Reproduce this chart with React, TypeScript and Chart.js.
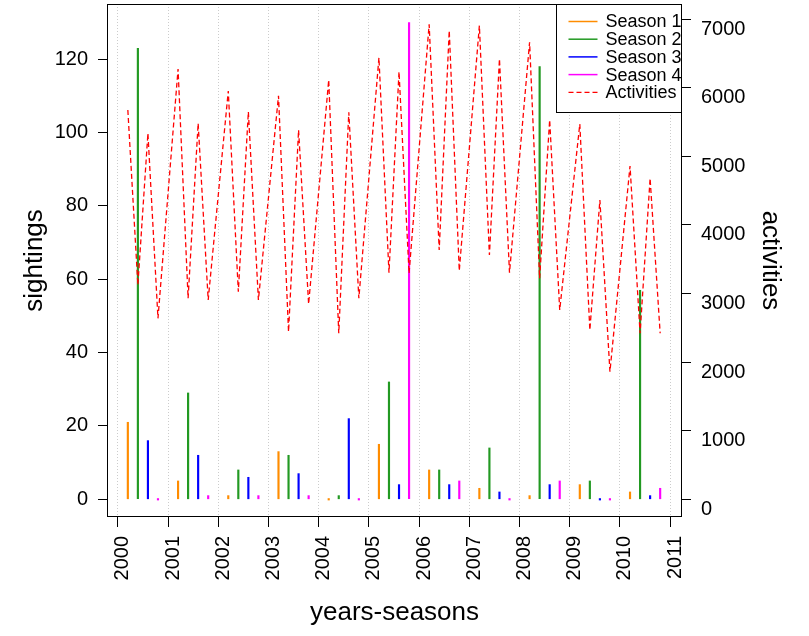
import React, { useEffect, useRef } from "react";
import { Chart, registerables } from "chart.js";

Chart.register(...registerables);

// ---------- data ----------
const YEARS = [2000, 2001, 2002, 2003, 2004, 2005, 2006, 2007, 2008, 2009, 2010];
const SEASON_OFFSETS = [0.2, 0.4, 0.6, 0.8];
const SEASON_LABELS = ["Season 1", "Season 2", "Season 3", "Season 4"];
const season1 = [21, 5, 1, 13, 0, 15, 8, 3, 1, 4, 2];
const season2 = [123, 29, 8, 12, 1, 32, 8, 14, 118, 5, 57];
const season3 = [16, 12, 6, 7, 22, 4, 4, 2, 4, 0, 1];
const season4 = [0, 1, 1, 1, 0, 130, 5, 0, 5, 0, 3];
const activities = [
  5675, 3124, 5335, 2638,
  6272, 2930, 5481, 2905,
  5952, 3026, 5650, 2905,
  5883, 2443, 5383, 2847,
  6112, 2420, 5641, 2930,
  6437, 3303, 6233, 3294,
  6924, 3634, 6831, 3333,
  6904, 3561, 6418, 3303,
  6662, 3222, 5529, 2759,
  5471, 2468, 4363, 1860,
  4859, 2420, 4679, 2420,
];
const X_TICKS = [2000, 2001, 2002, 2003, 2004, 2005, 2006, 2007, 2008, 2009, 2010, 2011];
const Y_TICKS = [0, 20, 40, 60, 80, 100, 120];
const Y2_TICKS = [0, 1000, 2000, 3000, 4000, 5000, 6000, 7000];

const SEASON_COLORS = ["#ff8c00", "#229922", "#0000ff", "#ff00ff"];
const FONT = "'Liberation Sans', Arial, Helvetica, sans-serif";

const zeroPad = (s: any) => {
  s.paddingTop = 0;
  s.paddingBottom = 0;
  s.paddingLeft = 0;
  s.paddingRight = 0;
};

const boxLegendPlugin = {
  id: "boxLegend",
  afterDraw(chart: any) {
    const { ctx, chartArea: a } = chart;
    ctx.save();
    ctx.strokeStyle = "#000";
    ctx.lineWidth = 1;
    ctx.setLineDash([]);
    const L = Math.round(a.left) + 0.5;
    const T = Math.round(a.top) + 0.5;
    const R = Math.round(a.right) - 0.5;
    const B = Math.round(a.bottom) - 0.5;
    ctx.strokeRect(L, T, R - L, B - T);

    // legend (top right, inside plot)
    const w = 125;
    const h = 108;
    const lx = R - w;
    const ly = T;
    ctx.fillStyle = "#fff";
    ctx.fillRect(lx, ly, w, h);
    ctx.strokeRect(lx, ly, w, h);
    ctx.font = `18px ${FONT}`;
    ctx.textBaseline = "middle";
    ctx.textAlign = "left";
    chart.data.datasets.forEach((ds: any, i: number) => {
      const yy = ly + 17 + i * 17.7;
      ctx.beginPath();
      ctx.strokeStyle = ds.type === "line" ? ds.borderColor : ds.backgroundColor;
      ctx.lineWidth = ds.type === "line" ? 1.3 : 1.5;
      ctx.setLineDash(ds.type === "line" ? [5, 3] : []);
      ctx.moveTo(lx + 12, yy);
      ctx.lineTo(lx + 41, yy);
      ctx.stroke();
      ctx.setLineDash([]);
      ctx.fillStyle = "#000";
      ctx.fillText(ds.label, lx + 49, yy + 1);
    });
    ctx.restore();
  },
};

export default function App() {
  const ref = useRef<HTMLCanvasElement | null>(null);

  useEffect(() => {
    if (!ref.current) return;
    Chart.defaults.font.family = FONT;
    Chart.defaults.color = "#000";

    const seasons = [season1, season2, season3, season4];
    const barSets = seasons.map((vals, i) => ({
      type: "bar" as const,
      label: SEASON_LABELS[i],
      data: YEARS.map((yr, j) => ({ x: yr + SEASON_OFFSETS[i], y: vals[j] })),
      backgroundColor: SEASON_COLORS[i],
      borderWidth: 0,
      barThickness: 1.5,
      grouped: false,
      minBarLength: 1.5,
      xAxisID: "x",
      yAxisID: "y",
      order: 2,
    }));
    const lineSet = {
      type: "line" as const,
      label: "Activities",
      data: activities.map((v, k) => ({
        x: YEARS[Math.floor(k / 4)] + SEASON_OFFSETS[k % 4],
        y: v,
      })),
      borderColor: "#ff0000",
      borderWidth: 1.3,
      borderDash: [5, 3],
      pointRadius: 0,
      tension: 0,
      fill: false,
      xAxisID: "x",
      yAxisID: "y2",
      order: 1,
    };

    const chart = new Chart(ref.current, {
      type: "bar",
      data: { datasets: [...barSets, lineSet] as any },
      options: {
        animation: false,
        responsive: false,
        maintainAspectRatio: false,
        devicePixelRatio: 1,
        layout: { padding: { top: 4, left: 0, right: 0, bottom: 0 } },
        plugins: { legend: { display: false }, tooltip: { enabled: false } },
        scales: {
          x: {
            type: "linear",
            min: 1999.785,
            max: 2011.235,
            offset: false,
            afterBuildTicks: (s: any) => {
              s.ticks = X_TICKS.map((v) => ({ value: v }));
            },
            afterFit: (s: any) => {
              s.height = 119;
              zeroPad(s);
            },
            ticks: {
              autoSkip: false,
              minRotation: 90,
              maxRotation: 90,
              padding: 9,
              labelOffset: 5,
              font: { size: 20 },
              color: "#000",
              callback: (v: any) => String(v),
            },
            grid: {
              display: true,
              offset: false,
              drawOnChartArea: true,
              drawTicks: true,
              color: "#cccccc",
              lineWidth: 1,
              tickColor: "#000",
              tickLength: 10,
              tickWidth: 1,
              tickBorderDash: [],
            } as any,
            border: { display: false, dash: [1, 2] },
            title: {
              display: true,
              text: "years-seasons",
              font: { size: 26 },
              color: "#000",
              padding: { top: 0, bottom: 8 },
            },
          },
          y: {
            type: "linear",
            position: "left",
            min: -4.83,
            max: 135.08,
            afterBuildTicks: (s: any) => {
              s.ticks = Y_TICKS.map((v) => ({ value: v }));
            },
            afterFit: (s: any) => {
              s.width = 107;
              zeroPad(s);
            },
            ticks: {
              padding: 10,
              font: { size: 20 },
              color: "#000",
              callback: (v: any) => String(v),
            },
            grid: {
              display: true,
              drawOnChartArea: false,
              drawTicks: true,
              color: "#000",
              tickLength: 9,
            },
            border: { display: false },
            title: {
              display: true,
              text: "sightings",
              font: { size: 26 },
              color: "#000",
              padding: { top: 19, bottom: 0 },
            },
          },
          y2: {
            type: "linear",
            position: "right",
            min: -258,
            max: 7220,
            afterBuildTicks: (s: any) => {
              s.ticks = Y2_TICKS.map((v) => ({ value: v }));
            },
            afterFit: (s: any) => {
              s.width = 127;
              zeroPad(s);
            },
            ticks: {
              padding: 10,
              align: "start",
              font: { size: 20 },
              color: "#000",
              callback: (v: any) => String(v),
            } as any,
            grid: {
              display: true,
              drawOnChartArea: false,
              drawTicks: true,
              color: "#000",
              tickLength: 9,
            },
            border: { display: false },
            title: {
              display: true,
              text: "activities",
              font: { size: 26 },
              color: "#000",
              padding: { top: 23, bottom: 0 },
            },
          },
        },
      } as any,
      plugins: [boxLegendPlugin],
    });

    return () => chart.destroy();
  }, []);

  return (
    <div style={{ position: "absolute", left: 0, top: 0, width: 809, height: 636, background: "#fff" }}>
      <canvas ref={ref} width={809} height={636} style={{ width: 809, height: 636, display: "block" }} />
    </div>
  );
}
